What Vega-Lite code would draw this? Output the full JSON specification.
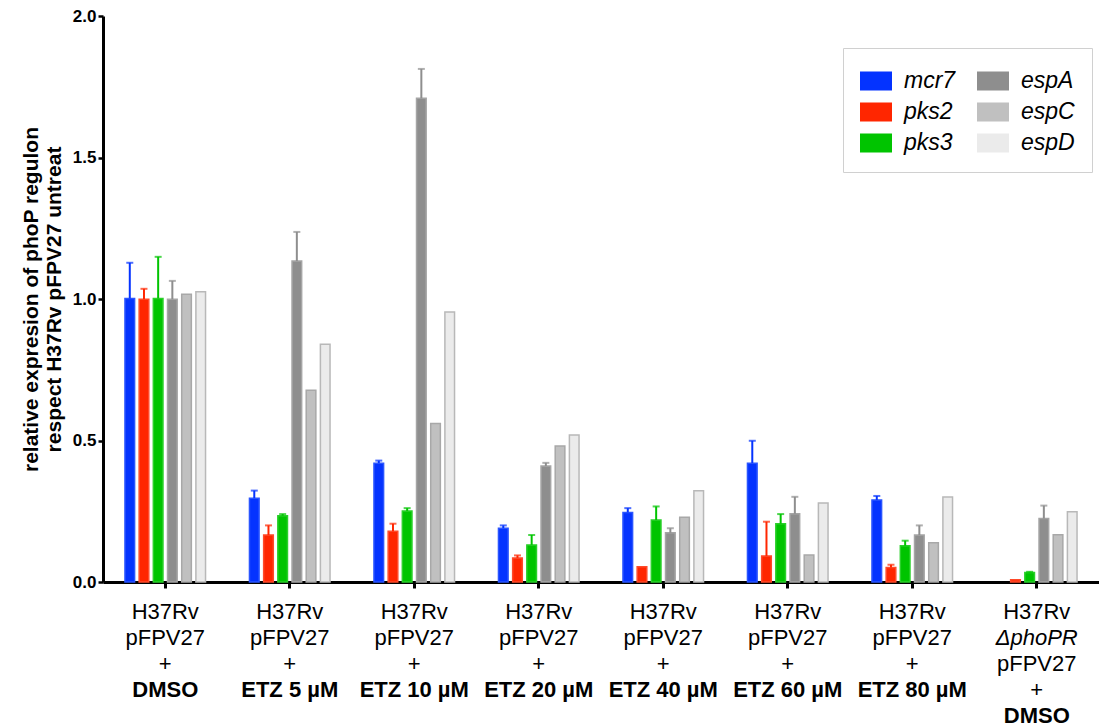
{
  "$schema": "https://vega.github.io/schema/vega-lite/v6.json",
  "width": 996,
  "height": 566,
  "autosize": {"type": "none"},
  "padding": {"left": 103, "top": 16, "right": 0, "bottom": 144},
  "background": "white",
  "config": {
    "view": {"stroke": null},
    "font": "Liberation Sans",
    "axis": {"labelFont": "Liberation Sans", "titleFont": "Liberation Sans", "labelColor": "black", "titleColor": "black", "domainColor": "black", "tickColor": "black", "grid": false}
  },
  "data": {
    "values": [
      {"group": "DMSO", "gene": "mcr7", "value": 1.002, "upper": 1.128},
      {"group": "DMSO", "gene": "pks2", "value": 0.999, "upper": 1.036},
      {"group": "DMSO", "gene": "pks3", "value": 1.002, "upper": 1.149},
      {"group": "DMSO", "gene": "espA", "value": 0.999, "upper": 1.064},
      {"group": "DMSO", "gene": "espC", "value": 1.017, "upper": null},
      {"group": "DMSO", "gene": "espD", "value": 1.026, "upper": null},
      {"group": "ETZ 5 µM", "gene": "mcr7", "value": 0.296, "upper": 0.323},
      {"group": "ETZ 5 µM", "gene": "pks2", "value": 0.166, "upper": 0.2},
      {"group": "ETZ 5 µM", "gene": "pks3", "value": 0.234, "upper": 0.24},
      {"group": "ETZ 5 µM", "gene": "espA", "value": 1.134, "upper": 1.237},
      {"group": "ETZ 5 µM", "gene": "espC", "value": 0.678, "upper": null},
      {"group": "ETZ 5 µM", "gene": "espD", "value": 0.84, "upper": null},
      {"group": "ETZ 10 µM", "gene": "mcr7", "value": 0.42, "upper": 0.429},
      {"group": "ETZ 10 µM", "gene": "pks2", "value": 0.179, "upper": 0.206},
      {"group": "ETZ 10 µM", "gene": "pks3", "value": 0.251, "upper": 0.261},
      {"group": "ETZ 10 µM", "gene": "espA", "value": 1.709, "upper": 1.813},
      {"group": "ETZ 10 µM", "gene": "espC", "value": 0.56, "upper": null},
      {"group": "ETZ 10 µM", "gene": "espD", "value": 0.954, "upper": null},
      {"group": "ETZ 20 µM", "gene": "mcr7", "value": 0.19, "upper": 0.2},
      {"group": "ETZ 20 µM", "gene": "pks2", "value": 0.085, "upper": 0.094},
      {"group": "ETZ 20 µM", "gene": "pks3", "value": 0.131, "upper": 0.166},
      {"group": "ETZ 20 µM", "gene": "espA", "value": 0.41, "upper": 0.421},
      {"group": "ETZ 20 µM", "gene": "espC", "value": 0.481, "upper": null},
      {"group": "ETZ 20 µM", "gene": "espD", "value": 0.519, "upper": null},
      {"group": "ETZ 40 µM", "gene": "mcr7", "value": 0.246, "upper": 0.261},
      {"group": "ETZ 40 µM", "gene": "pks2", "value": 0.054, "upper": null},
      {"group": "ETZ 40 µM", "gene": "pks3", "value": 0.219, "upper": 0.267},
      {"group": "ETZ 40 µM", "gene": "espA", "value": 0.174, "upper": 0.19},
      {"group": "ETZ 40 µM", "gene": "espC", "value": 0.229, "upper": null},
      {"group": "ETZ 40 µM", "gene": "espD", "value": 0.322, "upper": null},
      {"group": "ETZ 60 µM", "gene": "mcr7", "value": 0.42, "upper": 0.499},
      {"group": "ETZ 60 µM", "gene": "pks2", "value": 0.092, "upper": 0.213},
      {"group": "ETZ 60 µM", "gene": "pks3", "value": 0.206, "upper": 0.24},
      {"group": "ETZ 60 µM", "gene": "espA", "value": 0.241, "upper": 0.301},
      {"group": "ETZ 60 µM", "gene": "espC", "value": 0.095, "upper": null},
      {"group": "ETZ 60 µM", "gene": "espD", "value": 0.279, "upper": null},
      {"group": "ETZ 80 µM", "gene": "mcr7", "value": 0.29, "upper": 0.304},
      {"group": "ETZ 80 µM", "gene": "pks2", "value": 0.051, "upper": 0.061},
      {"group": "ETZ 80 µM", "gene": "pks3", "value": 0.128, "upper": 0.146},
      {"group": "ETZ 80 µM", "gene": "espA", "value": 0.166, "upper": 0.2},
      {"group": "ETZ 80 µM", "gene": "espC", "value": 0.139, "upper": null},
      {"group": "ETZ 80 µM", "gene": "espD", "value": 0.3, "upper": null},
      {"group": "ΔphoPR DMSO", "gene": "pks2", "value": 0.008, "upper": null},
      {"group": "ΔphoPR DMSO", "gene": "pks3", "value": 0.034, "upper": 0.036},
      {"group": "ΔphoPR DMSO", "gene": "espA", "value": 0.224, "upper": 0.27},
      {"group": "ΔphoPR DMSO", "gene": "espC", "value": 0.167, "upper": null},
      {"group": "ΔphoPR DMSO", "gene": "espD", "value": 0.248, "upper": null}
    ]
  },
  "resolve": {"axis": {"x": "independent"}},
  "layer": [
    {
      "mark": {"type": "bar", "strokeWidth": 1.5},
      "encoding": {
        "x": {
          "field": "group", "type": "nominal",
          "sort": ["DMSO", "ETZ 5 µM", "ETZ 10 µM", "ETZ 20 µM", "ETZ 40 µM", "ETZ 60 µM", "ETZ 80 µM", "ΔphoPR DMSO"],
          "scale": {"paddingInner": 0.33, "paddingOuter": 0.165},
          "axis": {"orient": "bottom", "title": null, "labelAngle": 0, "labelFontSize": 22, "labelLineHeight": 26, "labelLimit": 400, "labelOverlap": false, "tickSize": 6, "tickWidth": 3, "domainWidth": 3,
            "labelPadding": {"condition": {"test": "datum.value == 'ΔphoPR DMSO'", "value": 65}, "value": 13},
            "labelExpr": "datum.value == 'ΔphoPR DMSO' ? ['pFPV27', '+'] : ['H37Rv', 'pFPV27', '+']"}
        },
        "xOffset": {"field": "gene", "type": "nominal", "sort": ["mcr7", "pks2", "pks3", "espA", "espC", "espD"], "scale": {"domain": ["mcr7", "pks2", "pks3", "espA", "espC", "espD"], "paddingInner": 0.32, "paddingOuter": 0.1}},
        "y": {
          "field": "value", "type": "quantitative", "scale": {"domain": [0, 2]},
          "axis": {"title": ["relative expresion of  phoP regulon", "respect H37Rv pFPV27 untreat"], "titleFontSize": 21, "titleFontWeight": "bold", "titleLineHeight": 23, "titlePadding": 8, "values": [0, 0.5, 1, 1.5, 2], "format": ".1f", "labelFontSize": 17, "labelFontWeight": "bold", "labelPadding": 2, "tickSize": 5, "tickWidth": 2.5, "domainWidth": 3}
        },
        "color": {
          "field": "gene", "type": "nominal",
          "scale": {"domain": ["mcr7", "pks2", "pks3", "espA", "espC", "espD"], "range": ["#0433ff", "#ff2600", "#00c400", "#8e8e8e", "#c0c0c0", "#ebebeb"]},
          "legend": {"title": null, "orient": "none", "legendX": 740, "legendY": 32, "columns": 2, "columnPadding": 18, "rowPadding": 3, "padding": 17, "strokeColor": "#d0d0d0", "labelFontSize": 23, "labelFontStyle": "italic", "labelFont": "Liberation Sans", "labelColor": "black", "labelOffset": 12, "symbolType": "M-1,-0.58H1V0.58H-1Z", "symbolSize": 930, "symbolStrokeWidth": 1.5, "symbolOpacity": 1}
        },
        "stroke": {
          "field": "gene", "type": "nominal",
          "scale": {"domain": ["mcr7", "pks2", "pks3", "espA", "espC", "espD"], "range": ["#2a55ff", "#ff4a2a", "#2ad02a", "#a5a5a5", "#a8a8a8", "#b8b8b8"]},
          "legend": {"title": null, "orient": "none", "legendX": 740, "legendY": 32, "columns": 2, "columnPadding": 18, "rowPadding": 3, "padding": 17, "strokeColor": "#d0d0d0", "labelFontSize": 23, "labelFontStyle": "italic", "labelFont": "Liberation Sans", "labelColor": "black", "labelOffset": 12, "symbolType": "M-1,-0.58H1V0.58H-1Z", "symbolSize": 930, "symbolStrokeWidth": 1.5, "symbolOpacity": 1}
        }
      }
    },
    {
      "transform": [{"filter": "datum.upper != null"}],
      "mark": {"type": "rule", "strokeWidth": 2},
      "encoding": {
        "x": {
          "field": "group", "type": "nominal",
          "sort": ["DMSO", "ETZ 5 µM", "ETZ 10 µM", "ETZ 20 µM", "ETZ 40 µM", "ETZ 60 µM", "ETZ 80 µM", "ΔphoPR DMSO"],
          "axis": {"orient": "bottom", "title": null, "labelAngle": 0, "labelFontSize": 22, "labelFontWeight": "bold", "labelLimit": 400, "labelOverlap": false, "tickSize": 6, "tickOpacity": 0, "domain": false,
            "labelPadding": {"condition": {"test": "datum.value == 'ΔphoPR DMSO'", "value": 117}, "value": 91},
            "labelExpr": "datum.value == 'ΔphoPR DMSO' ? 'DMSO' : datum.value"}
        },
        "xOffset": {"field": "gene", "type": "nominal", "sort": ["mcr7", "pks2", "pks3", "espA", "espC", "espD"]},
        "y": {"field": "value", "type": "quantitative"},
        "y2": {"field": "upper"},
        "color": {"field": "gene", "type": "nominal", "legend": null}
      }
    },
    {
      "transform": [{"filter": "datum.upper != null && datum.gene != 'espA'"}],
      "mark": {"type": "tick", "thickness": 2, "size": 7, "orient": "horizontal"},
      "encoding": {
        "x": {
          "field": "group", "type": "nominal",
          "sort": ["DMSO", "ETZ 5 µM", "ETZ 10 µM", "ETZ 20 µM", "ETZ 40 µM", "ETZ 60 µM", "ETZ 80 µM", "ΔphoPR DMSO"],
          "axis": {"orient": "bottom", "title": null, "labelAngle": 0, "labelFontSize": 22, "labelFontStyle": "italic", "labelPadding": 39, "labelLimit": 400, "labelOverlap": false, "tickSize": 6, "tickOpacity": 0, "domain": false,
            "labelExpr": "datum.value == 'ΔphoPR DMSO' ? 'ΔphoPR' : ''"}
        },
        "xOffset": {"field": "gene", "type": "nominal", "sort": ["mcr7", "pks2", "pks3", "espA", "espC", "espD"]},
        "y": {"field": "upper", "type": "quantitative"},
        "color": {"field": "gene", "type": "nominal", "legend": null}
      }
    },
    {
      "transform": [{"filter": "datum.upper != null && datum.gene == 'espA'"}],
      "mark": {"type": "tick", "thickness": 2, "size": 7, "orient": "horizontal"},
      "encoding": {
        "x": {
          "field": "group", "type": "nominal",
          "sort": ["DMSO", "ETZ 5 µM", "ETZ 10 µM", "ETZ 20 µM", "ETZ 40 µM", "ETZ 60 µM", "ETZ 80 µM", "ΔphoPR DMSO"],
          "axis": {"orient": "bottom", "title": null, "labelAngle": 0, "labelFontSize": 22, "labelPadding": 13, "labelLimit": 400, "labelOverlap": false, "tickSize": 6, "tickOpacity": 0, "domain": false,
            "labelExpr": "datum.value == 'ΔphoPR DMSO' ? 'H37Rv' : ''"}
        },
        "xOffset": {"field": "gene", "type": "nominal", "sort": ["mcr7", "pks2", "pks3", "espA", "espC", "espD"]},
        "y": {"field": "upper", "type": "quantitative"},
        "color": {"field": "gene", "type": "nominal", "legend": null}
      }
    }
  ]
}
